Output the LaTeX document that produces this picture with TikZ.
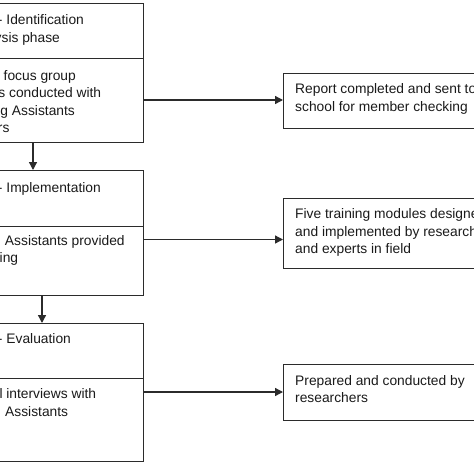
\documentclass[tikz,border=0pt]{standalone}
\usepackage{fontspec}
\setmainfont{Liberation Sans}
\usetikzlibrary{arrows.meta}
\definecolor{linec}{HTML}{2B2B2B}
\definecolor{textc}{HTML}{1A1A1A}
\begin{document}
\begin{tikzpicture}[x=1pt,y=-1pt,
  box/.style={draw=linec, line width=1.3pt, rectangle, inner sep=0pt, fill=none},
  txt/.style={anchor=base west, inner sep=0pt, font=\fontsize{13.8}{16}\selectfont, text=textc},
  arr/.style={draw=linec, line width=1.3pt, -{Triangle[length=8pt,width=8pt]}}]
\useasboundingbox (0,0) rectangle (474,474);
\clip (0,0) rectangle (474,474);
\fill[white] (0,0) rectangle (474,474);

% left column boxes
\node[box, minimum width=400pt, minimum height=55pt, anchor=north east] (p1a) at (144,3) {};
\node[box, minimum width=400pt, minimum height=84pt, anchor=north east] (p1b) at (144,58) {};
\node[box, minimum width=400pt, minimum height=56pt, anchor=north east] (p2a) at (144,170) {};
\node[box, minimum width=400pt, minimum height=69pt, anchor=north east] (p2b) at (144,226) {};
\node[box, minimum width=400pt, minimum height=55pt, anchor=north east] (p3a) at (144,323) {};
\node[box, minimum width=400pt, minimum height=83pt, anchor=north east] (p3b) at (144,378) {};

% right column boxes
\node[box, minimum width=300pt, minimum height=55pt, anchor=north west] (r1) at (283,73) {};
\node[box, minimum width=300pt, minimum height=70pt, anchor=north west] (r2) at (283,198) {};
\node[box, minimum width=300pt, minimum height=56pt, anchor=north west] (r3) at (283,364) {};

% left texts
\node[txt] (t1a) at (-2.2,24) {- Identification};
\node[txt] (t1b) at (-5.5,42) {ysis phase};
\node[txt] (t1c) at (3.5,80) {focus group};
\node[txt] (t1d) at (-1.8,97.5) {s conducted with};
\node[txt] (t1e) at (0.3,115) {g Assistants};
\node[txt] (t1f) at (-2.2,132.5) {rs};
\node[txt] (t2a) at (-2.2,192) {- Implementation};
\node[txt] (t2b) at (4.8,245) {Assistants provided};
\node[txt] (t2c) at (-0.5,262.5) {ing};
\node[txt] (t3a) at (-2.2,343.5) {- Evaluation};
\node[txt] (t3b) at (-0.7,398.5) {l interviews with};
\node[txt] (t3c) at (5,416) {Assistants};

% right texts
\node[txt] (s1a) at (295,93) {Report completed and sent to};
\node[txt] (s1b) at (295,111) {school for member checking};
\node[txt] (s2a) at (295,218) {Five training modules designe};
\node[txt] (s2b) at (295,236) {and implemented by research};
\node[txt] (s2c) at (295,253.5) {and experts in field};
\node[txt] (s3a) at (295,385) {Prepared and conducted by};
\node[txt] (s3b) at (295,402.5) {researchers};

% connectors
\coordinate (v1) at (33,0);
\coordinate (v2) at (42,0);
\coordinate (h1) at (0,100);
\coordinate (h2) at (0,239.5);
\coordinate (h3) at (0,392);
\draw[arr] (p1b.south -| v1) -- (p2a.north -| v1);
\draw[arr] (p2b.south -| v2) -- (p3a.north -| v2);
\draw[arr] (p1b.east |- h1) -- (r1.west |- h1);
\draw[arr] (p2b.east |- h2) -- (r2.west |- h2);
\draw[arr] (p3b.east |- h3) -- (r3.west |- h3);
\end{tikzpicture}
\end{document}
